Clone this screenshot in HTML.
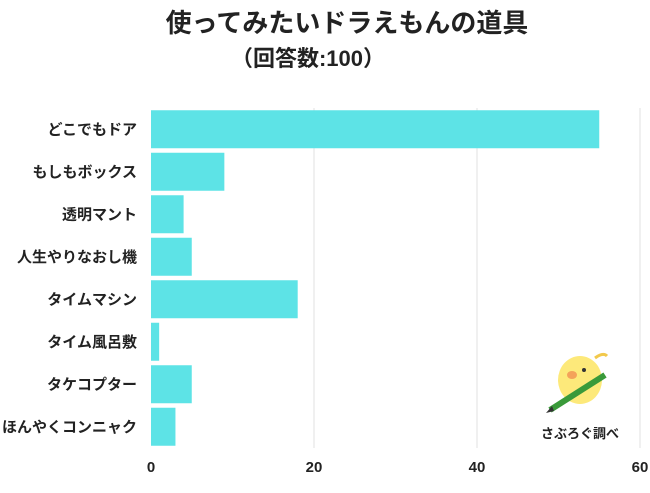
<!DOCTYPE html>
<html><head><meta charset="utf-8"><style>
html,body{margin:0;padding:0;background:#fff;}
body{width:650px;height:488px;overflow:hidden;font-family:"Liberation Sans","Noto Sans CJK JP",sans-serif;}
</style></head><body>
<svg id="chart" width="650" height="488" xmlns="http://www.w3.org/2000/svg" font-family="'Liberation Sans','Noto Sans CJK JP',sans-serif">
<text x="347" y="32" text-anchor="middle" font-size="26" font-weight="bold" fill="#222">使ってみたいドラえもんの道具</text>
<text x="308" y="66" text-anchor="middle" font-size="22" font-weight="bold" fill="#222">（回答数:100）</text>
<g id="grid"></g><g id="bars"></g><g id="labels"></g><g id="ticks"></g>
<g>
<ellipse cx="580" cy="380" rx="22" ry="24" fill="#fde97a"/>
<ellipse cx="572" cy="375" rx="5" ry="4" fill="#f4a25a"/>
<circle cx="584" cy="370" r="2" fill="#333"/>
<path d="M595 358 q8 -6 12 -2" stroke="#f2c94c" stroke-width="3" fill="none"/>
<line x1="550" y1="410" x2="605" y2="375" stroke="#3a9a3a" stroke-width="6"/>
<polygon points="546,413 552,406 554,411" fill="#333"/>
<text x="580" y="438" text-anchor="middle" font-size="13" font-weight="bold" fill="#222">さぶろぐ調べ</text>
</g>
</svg>
<script>
const categories=["どこでもドア","もしもボックス","透明マント","人生やりなおし機","タイムマシン","タイム風呂敷","タケコプター","ほんやくコンニャク"];
const values=[55,9,4,5,18,1,5,3];
const ticks=[0,20,40,60];
const NS="http://www.w3.org/2000/svg";
const x0=151,x1=640,plotTop=108,plotBottom=448,xmax=60;
const xs=v=>x0+v/xmax*(x1-x0);
const band=(plotBottom-plotTop)/categories.length;
function mk(t,a,p){const e=document.createElementNS(NS,t);for(const k in a)e.setAttribute(k,a[k]);document.getElementById(p).appendChild(e);return e;}
ticks.forEach(t=>{
 if(t>0){const g=mk('line',{x1:xs(t),x2:xs(t),y1:plotTop,y2:plotBottom,stroke:'#e2e2e2','stroke-width':1},'grid');
 
 }
 const l=mk('text',{x:xs(t),y:472,'text-anchor':'middle','font-size':15,'font-weight':'bold',fill:'#222'},'ticks');
 l.textContent=t;
 
 
});
categories.forEach((c,i)=>{
 const yc=plotTop+band*(i+0.5);
 const r=mk('rect',{x:x0,y:yc-19,width:xs(values[i])-x0,height:38,fill:'#5de3e6'},'bars');
 
 
 const t=mk('text',{x:137,y:yc+5,'text-anchor':'end','font-size':15,'font-weight':'bold',fill:'#222'},'labels');
 t.textContent=c;
 
 
});
</script>
</body></html>
